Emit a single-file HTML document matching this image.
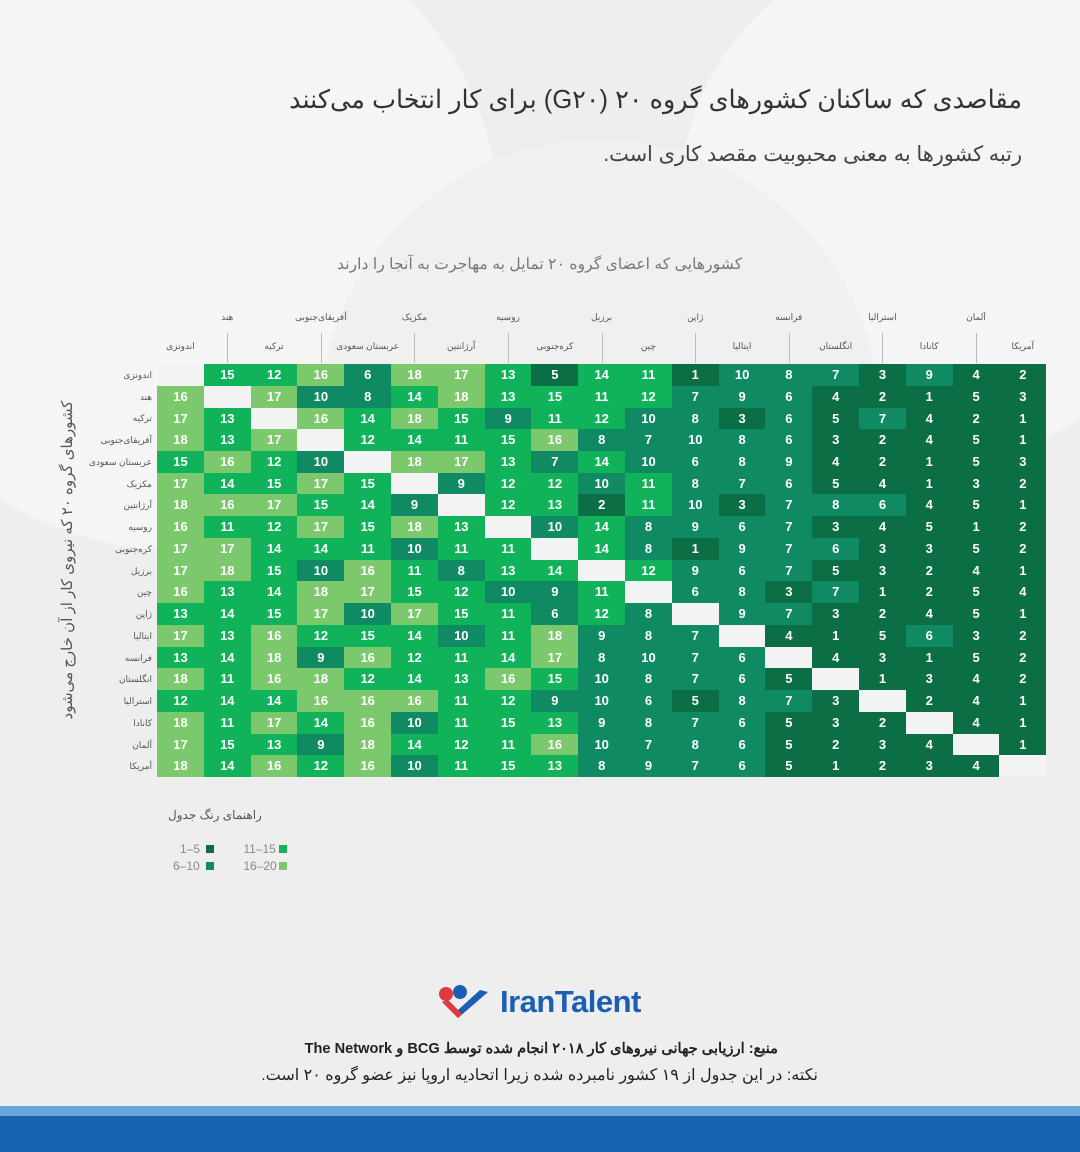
<!DOCTYPE html>
<html><head><meta charset="utf-8"><style>
body{margin:0;width:1080px;height:1152px;background:#eeeeee;position:relative;overflow:hidden;font-family:"Liberation Sans","Noto Sans CJK SC",sans-serif;}
.bg{position:absolute;border-radius:50%;background:#f5f5f5;}
.t{position:absolute;white-space:nowrap;direction:rtl;}
.c{position:absolute;width:47px;height:22px;color:#fff;font-weight:bold;font-size:13px;text-align:center;line-height:22px;}
.rl{position:absolute;right:928px;font-size:9px;color:#555;direction:rtl;white-space:nowrap;line-height:22px;}
.hl{position:absolute;font-size:9px;color:#555;letter-spacing:2px;transform:translateX(-50%);white-space:nowrap;direction:rtl;}
.vl{position:absolute;width:1px;height:30px;top:333px;background:#bbb;}
.lg span{direction:ltr;unicode-bidi:bidi-override;}
</style></head><body>
<div class="bg" style="left:-150px;top:-100px;width:650px;height:650px;"></div>
<div class="bg" style="left:680px;top:-60px;width:520px;height:520px;"></div>
<div class="bg" style="left:320px;top:140px;width:560px;height:560px;background:#f0f0f0"></div>
<div class="t" style="right:58px;top:85px;font-size:25.5px;color:#333;">مقاصدی که ساکنان کشورهای گروه ۲۰ (G۲۰) برای کار انتخاب می‌کنند</div>
<div class="t" style="right:58px;top:142px;font-size:20.8px;color:#444;">رتبه کشورها به معنی محبوبیت مقصد کاری است.</div>
<div class="t" style="left:337px;top:254px;font-size:15.7px;color:#777;">کشورهایی که اعضای گروه ۲۰ تمایل به مهاجرت به آنجا را دارند</div>
<div class="t" style="left:68px;top:560px;font-size:15px;color:#555;transform:rotate(-90deg);transform-origin:center;width:0;">
<span style="position:absolute;left:-170px;top:-10px;width:340px;text-align:center;">کشورهای گروه ۲۰ که نیروی کار از آن خارج می‌شود</span></div>
<div id="g"></div>
<div class="t" style="left:168px;top:808px;font-size:12px;color:#555;letter-spacing:2px;">راهنمای رنگ جدول</div>
<div class="lg" style="position:absolute;left:180px;top:841px;font-size:12px;color:#888;line-height:17px;direction:ltr;">
<div><span style="display:inline-block;width:28px;">1–5</span><span style="display:inline-block;width:8px;height:8px;background:#0b6e45;margin-left:-2px"></span>
<span style="display:inline-block;width:36px;margin-left:26px">11–15</span><span style="display:inline-block;width:8px;height:8px;background:#10b25a;"></span></div>
<div style="margin-left:-7px"><span style="display:inline-block;width:35px;">6–10</span><span style="display:inline-block;width:8px;height:8px;background:#0f8a63;margin-left:-2px"></span>
<span style="display:inline-block;width:36px;margin-left:26px">16–20</span><span style="display:inline-block;width:8px;height:8px;background:#7cc86c;"></span></div>
</div>
<div style="position:absolute;left:436px;top:984px;width:210px;height:40px;">
<svg width="60" height="40" style="position:absolute;left:0;top:0"><circle cx="10" cy="10" r="7" fill="#e03a3e"/><circle cx="24" cy="8" r="7" fill="#1a5fb4"/><path d="M6 18 L22 34 L52 8 L44 6 L22 26 L12 16Z" fill="#1a5fb4"/><path d="M6 18 L22 34 L26 30 L12 16Z" fill="#e03a3e"/></svg>
<div style="position:absolute;left:64px;top:0;font-size:31px;font-weight:bold;color:#1a5fb4;letter-spacing:-0.5px;">IranTalent</div></div>
<div class="t" style="right:302px;top:1040px;font-size:14.6px;font-weight:bold;color:#222;">منبع: ارزیابی جهانی نیروهای کار ۲۰۱۸ انجام شده توسط BCG و The Network</div>
<div class="t" style="right:262px;top:1065px;font-size:16px;color:#222;">نکته: در این جدول از ۱۹ کشور نامبرده شده زیرا اتحادیه اروپا نیز عضو گروه ۲۰ است.</div>
<div style="position:absolute;left:0;top:1106px;width:1080px;height:10px;background:#6aa6dc"></div>
<div style="position:absolute;left:0;top:1116px;width:1080px;height:36px;background:#1763b1"></div>
<script>
var names=["اندونزی","هند","ترکیه","آفریقای‌جنوبی","عربستان سعودی","مکزیک","آرژانتین","روسیه","کره‌جنوبی","برزیل","چین","ژاپن","ایتالیا","فرانسه","انگلستان","استرالیا","کانادا","آلمان","آمریکا"];
var D=[
[0,15,12,16,6,18,17,13,5,14,11,1,10,8,7,3,9,4,2],
[16,0,17,10,8,14,18,13,15,11,12,7,9,6,4,2,1,5,3],
[17,13,0,16,14,18,15,9,11,12,10,8,3,6,5,7,4,2,1],
[18,13,17,0,12,14,11,15,16,8,7,10,8,6,3,2,4,5,1],
[15,16,12,10,0,18,17,13,7,14,10,6,8,9,4,2,1,5,3],
[17,14,15,17,15,0,9,12,12,10,11,8,7,6,5,4,1,3,2],
[18,16,17,15,14,9,0,12,13,2,11,10,3,7,8,6,4,5,1],
[16,11,12,17,15,18,13,0,10,14,8,9,6,7,3,4,5,1,2],
[17,17,14,14,11,10,11,11,0,14,8,1,9,7,6,3,3,5,2],
[17,18,15,10,16,11,8,13,14,0,12,9,6,7,5,3,2,4,1],
[16,13,14,18,17,15,12,10,9,11,0,6,8,3,7,1,2,5,4],
[13,14,15,17,10,17,15,11,6,12,8,0,9,7,3,2,4,5,1],
[17,13,16,12,15,14,10,11,18,9,8,7,0,4,1,5,6,3,2],
[13,14,18,9,16,12,11,14,17,8,10,7,6,0,4,3,1,5,2],
[18,11,16,18,12,14,13,16,15,10,8,7,6,5,0,1,3,4,2],
[12,14,14,16,16,16,11,12,9,10,6,5,8,7,3,0,2,4,1],
[18,11,17,14,16,10,11,15,13,9,8,7,6,5,3,2,0,4,1],
[17,15,13,9,18,14,12,11,16,10,7,8,6,5,2,3,4,0,1],
[18,14,16,12,16,10,11,15,13,8,9,7,6,5,1,2,3,4,0]];
var L=157,T=364,W=46.8,H=21.74,h="";
function col(v){return v==0?"#f3f3f3":v<=5?"#0b6e45":v<=10?"#0f8a63":v<=15?"#10b25a":"#7cc86c";}
for(var r=0;r<19;r++){h+='<div class="rl" style="top:'+(T+r*H)+'px">'+names[r]+'</div>';
for(var c=0;c<19;c++){var v=D[r][c];h+='<div class="c" style="left:'+(L+c*W).toFixed(1)+'px;top:'+(T+r*H).toFixed(1)+'px;background:'+col(v)+'">'+(v||"")+'</div>';}}
for(var c=0;c<19;c++){var x=L+c*W+W/2;h+='<div class="hl" style="left:'+x.toFixed(1)+'px;top:'+(c%2?312:341)+'px">'+names[c]+'</div>';
if(c%2==1)h+='<div class="vl" style="left:'+x.toFixed(1)+'px"></div>';}
document.getElementById("g").innerHTML=h;
</script>
</body></html>
